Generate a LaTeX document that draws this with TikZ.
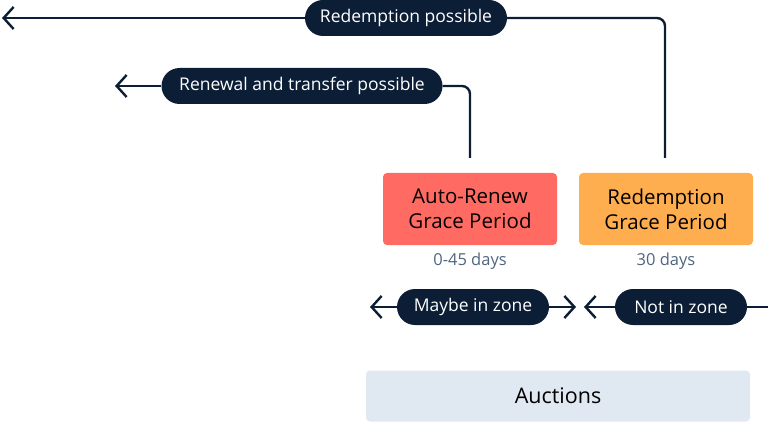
\documentclass[tikz,border=0pt]{standalone}
\usepackage{fontspec}
\setmainfont{Open Sans}
\usetikzlibrary{arrows.meta, positioning}
\definecolor{navy}{HTML}{0C1E35}
\definecolor{arred}{HTML}{FF6B62}
\definecolor{rgorange}{HTML}{FFAE4F}
\definecolor{daygray}{HTML}{4F6580}
\definecolor{auctblue}{HTML}{E0E8F1}
\tikzset{
    pill/.style={fill=navy, text=white, rounded corners=18pt, minimum height=36pt, inner xsep=0pt, font=\fontsize{17.5}{21}\selectfont},
    period/.style={rounded corners=4pt, minimum width=174pt, minimum height=72pt, align=center, font=\fontsize{20.5}{25}\selectfont},
    days/.style={text=daygray, font=\fontsize{16.5}{20}\selectfont},
    link/.style={navy, line width=2.4pt, rounded corners=8pt},
    tip/.style={-{Straight Barb[length=10pt, width=22pt]}}
}
\newcommand{\pill}[4]{
    \node[pill, minimum width=#3] (#1) at (#2) {#4};
}
\begin{document}
\begin{tikzpicture}[x=1pt, y=-1pt]
    \useasboundingbox (0,0) rectangle (768,422);
    % periods
    \node[period, fill=arred] (argp) at (470,209) {Auto-Renew\\Grace Period};
    \node[period, fill=rgorange] (rgp) at (666,209) {Redemption\\Grace Period};
    \node[days] (ardays) at (470,261) {0-45 days};
    \node[days] (rgdays) at (666,261) {30 days};
    \node[rounded corners=4pt, fill=auctblue, minimum width=384pt, minimum height=51pt, font=\fontsize{21.5}{26}\selectfont] (auct) at (558,396) {Auctions};
    % labels
    \pill{rpos}{406,18}{202pt}{Redemption possible}
    \pill{rtpos}{302,86}{281pt}{Renewal and transfer possible}
    \pill{maybe}{473,307}{152pt}{Maybe in zone}
    \pill{notz}{681,307}{132pt}{Not in zone}
    \coordinate (rtop) at (665,158);
    \coordinate (artop) at (470,158);
    \coordinate (rend) at (2,18);
    \coordinate (rtend) at (115,86);
    \coordinate (mleft) at (370,307);
    \coordinate (mright) at (576,307);
    \coordinate (nleft) at (584,307);
    \coordinate (nright) at (768,307);
    % connectors
    \draw[link] (rtop) |- (rpos.east);
    \draw[link, tip] (rpos.west) -- (rend);
    \draw[link] (artop) |- (rtpos.east);
    \draw[link, tip] (rtpos.west) -- (rtend);
    \draw[link, tip] (maybe.west) -- (mleft);
    \draw[link, tip] (maybe.east) -- (mright);
    \draw[link, tip] (notz.west) -- (nleft);
    \draw[link] (notz.east) -- (nright);
\end{tikzpicture}
\end{document}
